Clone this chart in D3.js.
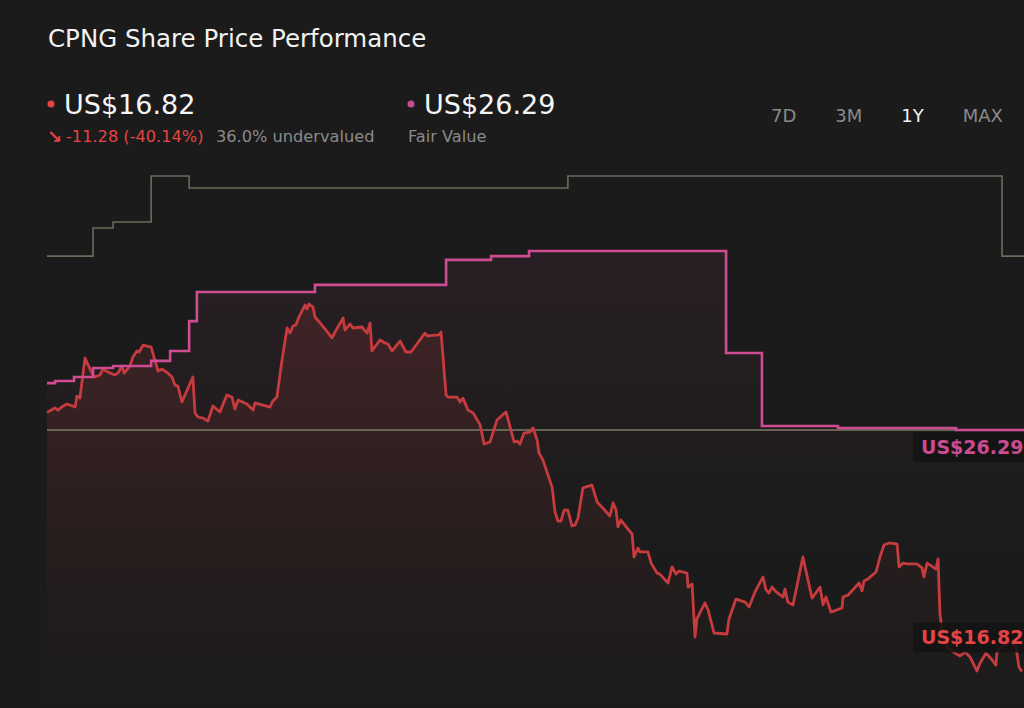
<!DOCTYPE html>
<html>
<head>
<meta charset="utf-8">
<script src="https://cdn.jsdelivr.net/npm/d3@7"></script>
<style>
  html, body { margin: 0; padding: 0; background: #1b1b1b; }
  svg { display: block; font-family: "DejaVu Sans", sans-serif; }
</style>
</head>
<body>
<div id="chart-wrapper"></div>
<script>
// share price, day number within the 1Y window
const priceDays = [0,3,4.1,5.6,7.5,10.5,11.2,12.3,14.2,16.8,17.9,19.8,20.9,22.8,25.4,26.5,28,28.8,31,32.1,33.6,34.4,35.9,38.9,40.3,41.5,43,45.2,46.7,47.8,48.9,50.4,54.5,55.3,56.4,58.3,60.1,62,64.6,67.2,69.1,70.2,71.4,74.7,77,77.7,83.3,84.4,85.9,87.8,89.7,90.8,91.9,93,94.1,96.4,97.1,97.9,99.4,100.1,102,103.9,106.5,107.6,110.6,111.3,113.2,114.3,117.7,119.6,120.7,121.4,124.4,126.3,127.4,128.9,131.9,134.1,136,141.2,142,146.4,147.2,149.1,149.8,153.2,154.3,155.4,157.3,159.2,161.8,163.3,165.5,168.1,171.5,174.5,175.6,176.7,178.2,180.4,181.6,183.1,183.8,185.3,188.7,189.8,190.9,192,193.2,194.6,196.1,197.3,198.4,200.2,203.6,205.5,207.3,210.3,211.5,212.6,213.3,214.4,218.6,219.3,220.8,221.5,224.5,225.7,227.9,229,232,233.5,235,236.1,239.1,239.5,241,242.1,242.8,245.8,247,249.2,254,254.8,257.4,260.8,262.3,264.5,267.5,268.6,269.7,270.9,272.4,275,275.7,276.8,278.7,282.4,285.8,288.8,289.9,291,292.9,297,297.4,299.3,303.4,304.5,305.2,306.7,309.7,311.2,312.7,314.6,317.6,318.3,319.8,321.3,325,326.9,327.6,328.8,332.1,332.9,333.6,334.7,336.6,339.2,341.1,343,344.8,347.4,348.6,350.8,353.1,354.5,354.9,357.2,359.8,362,363.1,364.2]
const priceValues = [26.97,27.16,27.07,27.2,27.31,27.19,27.62,27.54,29.11,28.52,28.37,28.45,28.68,28.56,28.45,28.52,28.8,28.52,28.8,29.15,29.39,29.35,29.62,29.54,29.03,28.6,28.68,28.52,28.37,28.05,28.01,27.39,28.37,26.96,26.8,26.76,26.64,27.23,27,27.66,27.58,27.11,27.47,27.31,27.07,27.35,27.19,27.43,27.58,29.03,30.29,30.09,30.37,30.41,30.72,31.19,31.04,31.23,31.11,30.72,30.49,30.25,29.9,30.13,30.68,30.21,30.45,30.29,30.33,30.09,30.49,29.39,29.82,29.7,29.66,29.39,29.78,29.35,29.35,30.09,29.98,30.02,30.13,27.66,27.58,27.58,27.39,27.54,27.07,26.96,26.49,25.74,25.82,26.68,27,25.82,25.86,25.74,26.17,26.21,26.37,25.9,25.39,25.11,24.05,23.07,22.72,22.72,23.15,23.15,22.53,22.57,22.84,24.02,24.13,23.47,23.27,22.92,23.43,23.15,22.49,22.76,22.21,21.31,21.66,21.51,21.51,21.07,20.68,20.64,20.29,20.92,20.64,20.76,20.68,20.13,20.25,18.17,18.88,19.51,19.23,18.33,18.29,18.88,19.66,19.54,19.35,19.94,20.53,20.02,19.9,20.13,19.94,19.74,20.05,19.54,19.43,21.31,19.7,20.13,19.43,19.74,19.15,19.31,19.74,19.82,20.29,19.98,20.37,20.45,20.72,21.31,21.78,21.86,21.82,20.92,21.07,21.04,21.04,20.88,20.53,21.07,20.84,21.23,19.07,18.25,17.74,17.54,17.43,17.58,17.39,16.84,17.15,17.54,17.27,17.07,17.58,17.86,17.98,17.78,17.0,16.82]

// fair value estimate (steps)
const fairDays = [0,3,10.1,17.2,24.7,38.9,46,53.1,56,100.1,149.1,165.9,180.1,253.7,267.1,295.5,339.6,365]
const fairValues = [28.13,28.21,28.37,28.72,28.8,29.0,29.39,30.56,31.7,31.98,32.96,33.11,33.31,29.31,26.45,26.37,26.29,26.29]

// analyst target (grey steps)
const targetDays = [0,17.2,24.7,38.9,53.1,194.6,356.8,365]
const targetValues = [33.11,34.21,34.45,36.25,35.78,36.25,33.11,33.11]

const currentPrice = 16.82
const currentFair = 26.29
const rangeButtons = ["7D", "3M", "1Y", "MAX"]
const activeRange = "1Y"

function drawChart() {
  const dimensions = { width: 1024, height: 708 }

  const svg = d3.select("#chart-wrapper")
    .append("svg")
      .attr("width", dimensions.width)
      .attr("height", dimensions.height)

  svg.append("rect")
    .attr("width", dimensions.width)
    .attr("height", dimensions.height)
    .attr("fill", "#1b1b1b")

  const xScale = d3.scaleLinear().domain([0, 365]).range([47, 1024])
  const yScale = d3.scaleLinear().domain([16, 36]).range([692.4, 182.4])

  const defs = svg.append("defs")
  const redGrad = defs.append("linearGradient")
    .attr("id", "red-grad").attr("gradientUnits", "userSpaceOnUse")
    .attr("x1", 0).attr("x2", 0).attr("y1", 290).attr("y2", 708)
  redGrad.append("stop").attr("offset", 0).attr("stop-color", "#c83c3c").attr("stop-opacity", 0.17)
  redGrad.append("stop").attr("offset", 1).attr("stop-color", "#c83c3c").attr("stop-opacity", 0)

  const pinkGrad = defs.append("linearGradient")
    .attr("id", "pink-grad").attr("gradientUnits", "userSpaceOnUse")
    .attr("x1", 0).attr("x2", 0).attr("y1", 250).attr("y2", 560)
  pinkGrad.append("stop").attr("offset", 0).attr("stop-color", "#d14f94").attr("stop-opacity", 0.07)
  pinkGrad.append("stop").attr("offset", 1).attr("stop-color", "#d14f94").attr("stop-opacity", 0)

  const price = priceDays.map((d, i) => ({ day: d, value: priceValues[i] }))
  const fair = fairDays.map((d, i) => ({ day: d, value: fairValues[i] }))
  const target = targetDays.map((d, i) => ({ day: d, value: targetValues[i] }))

  const chartGroup = svg.append("g")

  chartGroup.append("path")
    .datum(fair)
    .attr("d", d3.area().curve(d3.curveStepAfter)
      .x(d => xScale(d.day)).y0(dimensions.height).y1(d => yScale(d.value)))
    .attr("fill", "url(#pink-grad)")

  chartGroup.append("path")
    .datum(price)
    .attr("d", d3.area()
      .x(d => xScale(d.day)).y0(dimensions.height).y1(d => yScale(d.value)))
    .attr("fill", "url(#red-grad)")

  chartGroup.append("path")
    .datum(target)
    .attr("d", d3.line().curve(d3.curveStepAfter).x(d => xScale(d.day)).y(d => yScale(d.value)))
    .attr("fill", "none")
    .attr("stroke", "#6f6a5b")
    .attr("stroke-width", 1.6)

  chartGroup.append("line")
    .attr("x1", xScale(0)).attr("x2", xScale(365))
    .attr("y1", yScale(currentFair)).attr("y2", yScale(currentFair))
    .attr("stroke", "#7f7a68")
    .attr("stroke-width", 1.5)

  chartGroup.append("path")
    .datum(price)
    .attr("d", d3.line().x(d => xScale(d.day)).y(d => yScale(d.value)))
    .attr("fill", "none")
    .attr("stroke", "#c63b3d")
    .attr("stroke-width", 2.8)
    .attr("stroke-linejoin", "round")

  chartGroup.append("path")
    .datum(fair)
    .attr("d", d3.line().curve(d3.curveStepAfter).x(d => xScale(d.day)).y(d => yScale(d.value)))
    .attr("fill", "none")
    .attr("stroke", "#cf4c93")
    .attr("stroke-width", 2.6)

  // end labels
  const labels = [
    { text: "US$" + currentFair.toFixed(2), cy: yScale(currentFair) + 17, color: "#cc4a8e" },
    { text: "US$" + currentPrice.toFixed(2), cy: yScale(currentPrice) - 34, color: "#e54444" },
  ]
  const labelGroup = svg.append("g").selectAll("g").data(labels).join("g")
  labelGroup.append("rect")
    .attr("x", 913).attr("y", d => d.cy - 15)
    .attr("width", 120).attr("height", 30).attr("rx", 3)
    .attr("fill", "#141414").attr("opacity", 0.9)
  labelGroup.append("text")
    .attr("x", 921).attr("y", d => d.cy + 7)
    .attr("fill", d => d.color)
    .attr("font-size", 19).attr("font-weight", "bold")
    .text(d => d.text)

  // header
  svg.append("text")
    .attr("x", 48).attr("y", 47)
    .attr("fill", "#f2f2f2").attr("font-size", 24.5)
    .text("CPNG Share Price Performance")

  svg.append("circle").attr("cx", 51).attr("cy", 104).attr("r", 3.5).attr("fill", "#e54444")
  svg.append("text")
    .attr("x", 64).attr("y", 114)
    .attr("fill", "#f5f5f5").attr("font-size", 27)
    .text("US$" + currentPrice.toFixed(2))

  svg.append("text")
    .attr("x", 47).attr("y", 143)
    .attr("fill", "#e54444").attr("font-size", 18).attr("font-weight", "bold")
    .text("\u2198")
  svg.append("text")
    .attr("x", 66).attr("y", 142)
    .attr("fill", "#e54444").attr("font-size", 16.2)
    .text("-11.28 (-40.14%)")
  svg.append("text")
    .attr("x", 216).attr("y", 142)
    .attr("fill", "#8a8a8a").attr("font-size", 16.2)
    .text("36.0% undervalued")

  svg.append("circle").attr("cx", 411).attr("cy", 104).attr("r", 3.5).attr("fill", "#cc4a8e")
  svg.append("text")
    .attr("x", 424).attr("y", 114)
    .attr("fill", "#f5f5f5").attr("font-size", 27)
    .text("US$" + currentFair.toFixed(2))
  svg.append("text")
    .attr("x", 408).attr("y", 142)
    .attr("fill", "#8a8a8a").attr("font-size", 16.2)
    .text("Fair Value")

  let buttonX = 771
  rangeButtons.forEach(b => {
    const t = svg.append("text")
      .attr("x", buttonX).attr("y", 122)
      .attr("fill", b == activeRange ? "#f2f2f2" : "#8a8a8a")
      .attr("font-size", 18)
      .text(b)
    buttonX += t.node().getComputedTextLength() + 39
  })
}

drawChart()
</script>
</body>
</html>
